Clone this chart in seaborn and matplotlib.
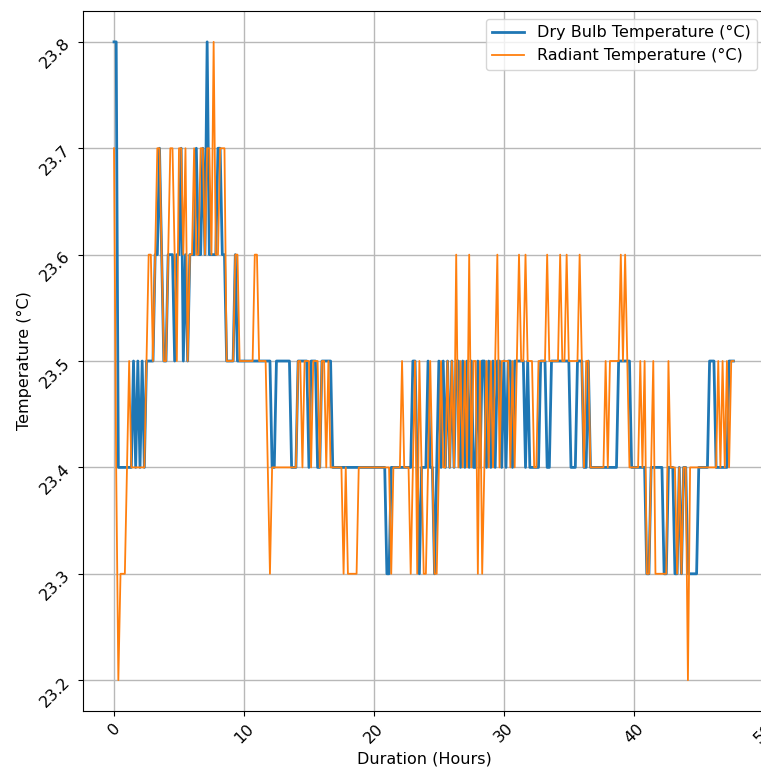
import numpy as np
import pandas as pd
import matplotlib
matplotlib.use("Agg")
import matplotlib.pyplot as plt
import seaborn as sns

# Readings logged every 10 minutes (6 per hour)
SAMPLES_PER_HOUR = 6

dry_bulb = [
    23.8, 23.8, 23.4, 23.4, 23.4, 23.4,   # h0
    23.4, 23.4, 23.4, 23.5, 23.4, 23.5,   # h1
    23.4, 23.5, 23.4, 23.5, 23.5, 23.5,   # h2
    23.5, 23.6, 23.6, 23.7, 23.6, 23.5,   # h3
    23.5, 23.6, 23.6, 23.6, 23.5, 23.6,   # h4
    23.6, 23.7, 23.5, 23.6, 23.5, 23.6,   # h5
    23.6, 23.6, 23.7, 23.6, 23.6, 23.7,   # h6
    23.6, 23.8, 23.6, 23.6, 23.6, 23.6,   # h7
    23.7, 23.7, 23.6, 23.6, 23.5, 23.5,   # h8
    23.5, 23.5, 23.6, 23.5, 23.5, 23.5,   # h9
    23.5, 23.5, 23.5, 23.5, 23.5, 23.5,   # h10
    23.5, 23.5, 23.5, 23.5, 23.5, 23.5,   # h11
    23.5, 23.4, 23.4, 23.5, 23.5, 23.5,   # h12
    23.5, 23.5, 23.5, 23.5, 23.4, 23.4,   # h13
    23.4, 23.5, 23.5, 23.5, 23.5, 23.5,   # h14
    23.4, 23.5, 23.5, 23.5, 23.4, 23.4,   # h15
    23.5, 23.5, 23.5, 23.5, 23.5, 23.4,   # h16
    23.4, 23.4, 23.4, 23.4, 23.4, 23.4,   # h17
    23.4, 23.4, 23.4, 23.4, 23.4, 23.4,   # h18
    23.4, 23.4, 23.4, 23.4, 23.4, 23.4,   # h19
    23.4, 23.4, 23.4, 23.4, 23.4, 23.4,   # h20
    23.3, 23.3, 23.4, 23.4, 23.4, 23.4,   # h21
    23.4, 23.4, 23.4, 23.4, 23.4, 23.4,   # h22
    23.5, 23.5, 23.4, 23.3, 23.4, 23.4,   # h23
    23.4, 23.5, 23.4, 23.4, 23.3, 23.4,   # h24
    23.5, 23.4, 23.5, 23.4, 23.5, 23.4,   # h25
    23.5, 23.4, 23.5, 23.5, 23.4, 23.5,   # h26
    23.4, 23.5, 23.4, 23.5, 23.4, 23.4,   # h27
    23.5, 23.4, 23.5, 23.5, 23.4, 23.5,   # h28
    23.4, 23.5, 23.4, 23.5, 23.5, 23.4,   # h29
    23.5, 23.4, 23.5, 23.5, 23.4, 23.5,   # h30
    23.5, 23.5, 23.5, 23.5, 23.4, 23.5,   # h31
    23.4, 23.4, 23.4, 23.4, 23.4, 23.5,   # h32
    23.5, 23.5, 23.4, 23.4, 23.5, 23.5,   # h33
    23.5, 23.5, 23.5, 23.5, 23.5, 23.5,   # h34
    23.5, 23.4, 23.4, 23.4, 23.5, 23.5,   # h35
    23.5, 23.4, 23.4, 23.5, 23.4, 23.4,   # h36
    23.4, 23.4, 23.4, 23.4, 23.4, 23.4,   # h37
    23.4, 23.4, 23.4, 23.4, 23.4, 23.5,   # h38
    23.5, 23.5, 23.5, 23.5, 23.5, 23.4,   # h39
    23.4, 23.4, 23.4, 23.4, 23.4, 23.4,   # h40
    23.3, 23.3, 23.4, 23.4, 23.4, 23.4,   # h41
    23.4, 23.4, 23.3, 23.3, 23.4, 23.4,   # h42
    23.4, 23.3, 23.3, 23.4, 23.3, 23.4,   # h43
    23.4, 23.3, 23.3, 23.3, 23.3, 23.3,   # h44
    23.4, 23.4, 23.4, 23.4, 23.4, 23.5,   # h45
    23.5, 23.5, 23.4, 23.4, 23.4, 23.4,   # h46
    23.4, 23.4, 23.5, 23.5, 23.5,         # h47
]

radiant = [
    23.7, 23.4, 23.2, 23.3, 23.3, 23.3,   # h0
    23.4, 23.5, 23.4, 23.4, 23.4, 23.4,   # h1
    23.4, 23.4, 23.4, 23.5, 23.6, 23.6,   # h2
    23.5, 23.6, 23.7, 23.7, 23.6, 23.5,   # h3
    23.5, 23.6, 23.7, 23.7, 23.6, 23.5,   # h4
    23.7, 23.7, 23.6, 23.7, 23.5, 23.6,   # h5
    23.6, 23.7, 23.6, 23.6, 23.7, 23.7,   # h6
    23.6, 23.7, 23.7, 23.6, 23.8, 23.6,   # h7
    23.6, 23.7, 23.7, 23.7, 23.5, 23.5,   # h8
    23.5, 23.5, 23.6, 23.6, 23.5, 23.5,   # h9
    23.5, 23.5, 23.5, 23.5, 23.5, 23.6,   # h10
    23.6, 23.5, 23.5, 23.5, 23.5, 23.4,   # h11
    23.3, 23.4, 23.4, 23.4, 23.4, 23.4,   # h12
    23.4, 23.4, 23.4, 23.4, 23.4, 23.4,   # h13
    23.4, 23.5, 23.5, 23.4, 23.5, 23.5,   # h14
    23.5, 23.4, 23.5, 23.5, 23.5, 23.4,   # h15
    23.5, 23.5, 23.4, 23.5, 23.4, 23.4,   # h16
    23.4, 23.4, 23.4, 23.4, 23.3, 23.4,   # h17
    23.3, 23.3, 23.3, 23.3, 23.3, 23.4,   # h18
    23.4, 23.4, 23.4, 23.4, 23.4, 23.4,   # h19
    23.4, 23.4, 23.4, 23.4, 23.4, 23.4,   # h20
    23.4, 23.4, 23.3, 23.4, 23.4, 23.4,   # h21
    23.4, 23.5, 23.4, 23.4, 23.4, 23.3,   # h22
    23.4, 23.5, 23.3, 23.5, 23.4, 23.3,   # h23
    23.3, 23.4, 23.5, 23.4, 23.3, 23.3,   # h24
    23.4, 23.5, 23.4, 23.4, 23.5, 23.4,   # h25
    23.5, 23.4, 23.6, 23.4, 23.5, 23.4,   # h26
    23.5, 23.4, 23.6, 23.4, 23.5, 23.5,   # h27
    23.3, 23.5, 23.3, 23.4, 23.5, 23.4,   # h28
    23.5, 23.4, 23.5, 23.6, 23.4, 23.5,   # h29
    23.5, 23.5, 23.5, 23.4, 23.5, 23.4,   # h30
    23.5, 23.6, 23.5, 23.5, 23.6, 23.5,   # h31
    23.5, 23.5, 23.4, 23.4, 23.5, 23.5,   # h32
    23.5, 23.5, 23.6, 23.5, 23.5, 23.5,   # h33
    23.5, 23.5, 23.6, 23.5, 23.5, 23.6,   # h34
    23.5, 23.5, 23.5, 23.5, 23.5, 23.6,   # h35
    23.5, 23.4, 23.5, 23.5, 23.4, 23.4,   # h36
    23.4, 23.4, 23.4, 23.4, 23.4, 23.5,   # h37
    23.4, 23.5, 23.5, 23.5, 23.5, 23.5,   # h38
    23.6, 23.5, 23.6, 23.5, 23.4, 23.4,   # h39
    23.4, 23.4, 23.4, 23.5, 23.4, 23.5,   # h40
    23.3, 23.3, 23.4, 23.5, 23.3, 23.3,   # h41
    23.3, 23.3, 23.3, 23.3, 23.5, 23.4,   # h42
    23.4, 23.4, 23.3, 23.4, 23.3, 23.4,   # h43
    23.4, 23.2, 23.4, 23.4, 23.4, 23.4,   # h44
    23.4, 23.4, 23.4, 23.4, 23.4, 23.4,   # h45
    23.4, 23.4, 23.4, 23.5, 23.4, 23.5,   # h46
    23.4, 23.5, 23.4, 23.5, 23.5,         # h47
]

series_names = ["Dry Bulb Temperature (°C)", "Radiant Temperature (°C)"]
series_colors = ["#1f77b4", "#ff7f0e"]
series_widths = [2.0, 1.3]

hours = np.arange(len(dry_bulb)) / SAMPLES_PER_HOUR
df = pd.DataFrame({
    "Duration": np.concatenate([hours, hours]),
    "Temperature": dry_bulb + radiant,
    "Series": [series_names[0]] * len(dry_bulb) + [series_names[1]] * len(radiant),
})

plt.rcParams["font.family"] = ["DejaVu Sans"]
plt.rcParams["font.size"] = 11.5

fig = plt.figure(figsize=(7.61, 7.71), dpi=100)
ax = fig.add_axes([0.1091, 0.0778, 0.8962, 0.9079])

for name, color, lw in zip(series_names, series_colors, series_widths):
    sns.lineplot(data=df[df["Series"] == name], x="Duration", y="Temperature",
                 color=color, linewidth=lw, label=name, ax=ax, estimator=None)

ax.set_xlabel("Duration (Hours)")
ax.set_ylabel("Temperature (°C)")
ax.grid(True, color="#b8b8b8", linewidth=1.0)
ax.set_yticks([23.2, 23.3, 23.4, 23.5, 23.6, 23.7, 23.8])
ax.set_xticks([0, 10, 20, 30, 40, 50])
ax.set_xlim(-2.385, 50.1)
ax.set_ylim(23.171, 23.829)
plt.setp(ax.get_xticklabels(), rotation=45)
plt.setp(ax.get_yticklabels(), rotation=45)
ax.legend(loc="upper right")

fig.savefig("out.png", dpi=100)
